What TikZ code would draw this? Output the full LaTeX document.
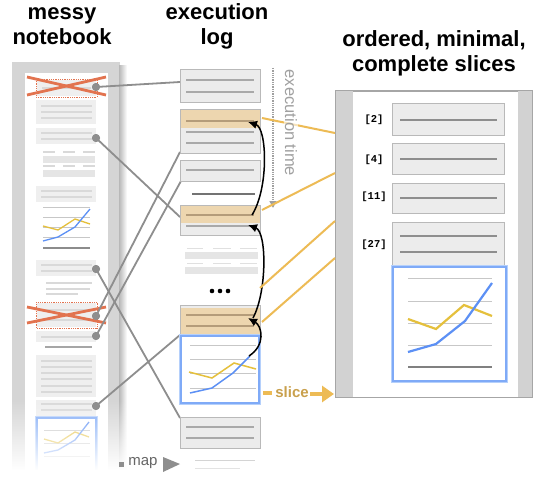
\documentclass[tikz,border=0pt]{standalone}
\usepackage{fontspec}
\setmainfont{Liberation Sans}
\setmonofont{Liberation Mono}
\usetikzlibrary{arrows.meta,fadings}
\definecolor{framec}{HTML}{D5D5D5}
\definecolor{cellg}{HTML}{EFEFEF}
\definecolor{cellln}{HTML}{D9D9D9}
\definecolor{xred}{HTML}{E2734F}
\definecolor{mapg}{HTML}{8E8E8E}
\definecolor{boxf}{HTML}{ECECEC}
\definecolor{boxd}{HTML}{B9B9B9}
\definecolor{boxln}{HTML}{A9A9A9}
\definecolor{tanband}{HTML}{EDD6AF}
\definecolor{tanln}{HTML}{B49C7A}
\definecolor{ylw}{HTML}{EDBB55}
\definecolor{chy}{HTML}{E5C03C}
\definecolor{chb}{HTML}{5C90F5}
\definecolor{glow}{HTML}{B5D0FB}
\definecolor{glowd}{HTML}{7FAAF7}
\definecolor{slicec}{HTML}{C9A04C}
\definecolor{timec}{HTML}{A0A0A0}
\definecolor{stripc}{HTML}{D2D2D2}
\definecolor{slln}{HTML}{8E8E8E}
\tikzset{
  title/.style={font=\bfseries\fontsize{22}{25}\selectfont, anchor=base, inner sep=0},
  nbcell/.style={fill=cellg},
  nbline/.style={cellln, line width=1.1pt},
  xmark/.style={xred, line width=2.8pt},
  redbox/.style={xred, densely dotted, line width=0.8pt},
  mapline/.style={mapg, line width=1.8pt},
  mapdot/.style={circle, fill=mapg, inner sep=0pt, minimum size=8pt},
  logbox/.style={draw=boxd, fill=boxf, line width=1pt},
  logln/.style={boxln, line width=1.2pt},
  tanlnst/.style={tanln, line width=1.2pt},
  yline/.style={ylw, line width=2pt},
  flow/.style={black, line width=1.5pt, -{Latex[length=9pt,width=8.5pt]}},
  grid/.style={black!22, line width=1pt},
  chartbox/.style={fill=white, draw=glowd, line width=1.3pt},
  chartglow/.style={draw=glow, line width=4pt},
  slbox/.style={draw=boxd, fill=boxf, line width=1pt},
  slline/.style={slln, line width=2pt},
  sllabel/.style={font=\ttfamily\bfseries\fontsize{10.5}{11}\selectfont, inner sep=0},
}
\begin{document}
\begin{tikzpicture}[x=1pt,y=-1pt]
\useasboundingbox (0,0) rectangle (549,487);
\fill[white] (0,0) rectangle (549,487);

% ---------- titles
\node[title] (t1a) at (62,20) {messy};
\node[title] (t1b) at (62,45) {notebook};
\node[title] (t2a) at (217,20) {execution};
\node[title] (t2b) at (217,45) {log};
\node[title] (t3a) at (434,47) {ordered, minimal,};
\node[title] (t3b) at (434,72) {complete slices};

% ---------- notebook frame
\fill[framec] (12,62) rectangle (120,487);
\shade[left color=black!28, right color=white] (119,66) rectangle (127,487);
\fill[white] (25,73) rectangle (108,487);

% notebook cells
\fill[nbcell] (37,80) rectangle (96,96);
\draw[nbline] (42,88) -- (91,88);
\draw[redbox] (36,79) rectangle (97,97);

\fill[nbcell] (36,100) rectangle (96,124);
\foreach \y in {106,112,118} \draw[nbline] (41,\y) -- (92,\y);

\fill[nbcell] (36,128) rectangle (96,144);
\foreach \y in {133,139} \draw[nbline] (41,\y) -- (92,\y);

\foreach \y in {152,166} {
  \draw[nbline] (43,\y) -- (55,\y); \draw[nbline] (63,\y) -- (75,\y); \draw[nbline] (83,\y) -- (95,\y);}
\fill[black!10] (43,156) rectangle (95,163);
\fill[black!10] (43,170) rectangle (95,177);

\fill[nbcell] (36,186) rectangle (96,202);
\foreach \y in {191,197} \draw[nbline] (41,\y) -- (92,\y);

\foreach \y in {207,217,227,237} \draw[grid] (43,\y) -- (90,\y);
\draw[chy, line width=1.3pt] (43,226) -- (58,230) -- (75,219) -- (90,224);
\draw[chb, line width=1.3pt] (43,241) -- (58,237) -- (75,227) -- (90,209);
\draw[black!45, line width=1.4pt] (43,248) -- (90,248);

\fill[nbcell] (36,260) rectangle (96,276);
\foreach \y in {265,271} \draw[nbline] (41,\y) -- (92,\y);

\draw[nbline] (46,283) -- (92,283);
\draw[nbline] (46,289) -- (90,289);
\draw[nbline] (46,294) -- (78,294);

\fill[nbcell] (37,303) rectangle (96,327);
\foreach \y in {310,320} \draw[nbline] (41,\y) -- (92,\y);
\draw[redbox] (36,302) rectangle (97,328);

\fill[nbcell] (36,331) rectangle (96,342);
\draw[nbline] (41,337) -- (92,337);
\draw[black!35, line width=1.2pt] (45,347) -- (92,347);

\fill[nbcell] (36,355) rectangle (96,397);
\foreach \y in {361,367,373,379,386,392} \draw[nbline] (41,\y) -- (92,\y);

\fill[nbcell] (36,400) rectangle (96,416);
\foreach \y in {404,410} \draw[nbline] (41,\y) -- (92,\y);

\draw[chartglow] (37,418) rectangle (96,475);
\draw[chartbox] (37,418) rectangle (96,475);
\foreach \y in {430,443,456} \draw[grid] (44,\y) -- (90,\y);
\draw[chy, line width=1.3pt] (44,439) -- (58,443) -- (75,432) -- (89,437);
\draw[chb, line width=1.3pt] (44,453) -- (58,450) -- (75,440) -- (89,422);

% red crosses
\draw[xmark] (27,77) -- (106,95);
\draw[xmark] (27,95) -- (106,77);
\draw[xmark] (27,307) -- (106,323);
\draw[xmark] (27,323) -- (106,307);

% fade of the notebook bottom
\fill[white, path fading=north] (0,400) rectangle (132,470);
\fill[white] (0,470) rectangle (132,487);

% ---------- notebook map points
\node[mapdot] (n1) at (96,87) {};
\node[mapdot] (n2) at (96,138) {};
\node[mapdot] (n3) at (96,269) {};
\node[mapdot] (n4) at (96,316) {};
\node[mapdot] (n5) at (96,336) {};
\node[mapdot] (n6) at (96,406) {};

% ---------- log entry points
\coordinate (e1) at (180,82);
\coordinate (e2) at (180,217);
\coordinate (e3) at (180,418);
\coordinate (e4) at (180,152);
\coordinate (e5) at (181,181);
\coordinate (e6) at (180,335);

\draw[mapline] (n1.center) -- (e1);
\draw[mapline] (n2.center) -- (e2);
\draw[mapline] (n3.center) -- (e3);
\draw[mapline] (n4.center) -- (e4);
\draw[mapline] (n5.center) -- (e5);
\draw[mapline] (n6.center) -- (e6);
\node[mapdot] at (n1) {};
\node[mapdot] at (n2) {};
\node[mapdot] at (n3) {};
\node[mapdot] at (n4) {};
\node[mapdot] at (n5) {};
\node[mapdot] at (n6) {};

% ---------- execution log
\draw[logbox] (180,70) rectangle (260,102);
\foreach \y in {80,92} \draw[logln] (186,\y) -- (254,\y);

\draw[logbox] (180,109) rectangle (260,153);
\fill[tanband] (180.5,109.5) rectangle (259.5,128);
\draw[tanlnst] (186,121) -- (254,121);
\foreach \y in {132,143} \draw[logln] (186,\y) -- (254,\y);

\draw[logbox] (180,160) rectangle (260,181);
\draw[logln] (186,170) -- (254,170);

\draw[black!55, line width=1.5pt] (192,194) -- (255,194);

\draw[logbox] (180,205) rectangle (260,235);
\fill[tanband] (180.5,205.5) rectangle (259.5,223);
\draw[tanlnst] (186,215) -- (254,215);
\draw[logln] (186,226) -- (254,226);

\foreach \y in {248,263} {
  \draw[black!12, line width=1pt] (187,\y) -- (203,\y);
  \draw[black!12, line width=1pt] (213,\y) -- (231,\y);
  \draw[black!12, line width=1pt] (240,\y) -- (257,\y);}
\fill[black!10] (185,252) rectangle (258,259);
\fill[black!10] (185,267) rectangle (258,274);

\node[circle, fill=black, inner sep=0pt, minimum size=4.6pt] (d1) at (212,291) {};
\node[circle, fill=black, inner sep=0pt, minimum size=4.6pt] (d2) at (220,291) {};
\node[circle, fill=black, inner sep=0pt, minimum size=4.6pt] (d3) at (228,291) {};

\draw[logbox] (180,305) rectangle (260,335);
\fill[tanband] (180.5,308) rectangle (259.5,334.5);
\foreach \y in {315,326} \draw[tanlnst] (186,\y) -- (254,\y);

\draw[chartglow] (181,336) rectangle (259,403);
\draw[chartbox] (181,336) rectangle (259,403);
\foreach \y in {345,359,373,388} \draw[grid] (190,\y) -- (256,\y);
\draw[chy, line width=1.5pt] (189,372) -- (212,378) -- (234,363) -- (256,369);
\draw[chb, line width=1.5pt] (190,393) -- (212,388) -- (233,373) -- (250,356);

\draw[logbox] (180,417) rectangle (260,448);
\foreach \y in {427,438} \draw[logln] (186,\y) -- (254,\y);

\draw[black!25, line width=1pt] (195,460) -- (255,460);
\draw[black!25, line width=1pt] (195,468) -- (240,468);
\fill[white, path fading=north] (172,449) rectangle (266,482);
\fill[white] (172,482) rectangle (266,487);

% execution order arrows
\coordinate (a1s) at (252,215);
\coordinate (a1e) at (248,122);
\coordinate (a2s) at (253,318);
\coordinate (a2e) at (248,225);
\coordinate (a3s) at (249,356);
\coordinate (a3e) at (248,318);
\draw[flow] (a1s) .. controls (269,188) and (267,128) .. (a1e);
\draw[flow] (a2s) .. controls (267,292) and (267,232) .. (a2e);
\draw[flow] (a3s) .. controls (266,345) and (262,326) .. (a3e);

% execution time
\coordinate (tt) at (273,68);
\coordinate (tb) at (273,208);
\draw[timec, densely dotted, line width=1.3pt, -{Triangle[length=7pt,width=7pt]}] (tt) -- (tb);

% ---------- slices panel
\draw[fill=white, draw=black!35, line width=1pt] (335,91) rectangle (532,397);
\fill[stripc] (335.5,91.5) rectangle (353,396.5);
\fill[stripc] (518,91.5) rectangle (531.5,396.5);

\draw[slbox] (392,103) rectangle (504,135);
\draw[slline] (400,120) -- (497,120);
\draw[slbox] (392,143) rectangle (504,174);
\draw[slline] (400,159) -- (497,159);
\draw[slbox] (392,183) rectangle (504,213);
\draw[slline] (400,198) -- (497,198);
\draw[slbox] (392,222) rectangle (504,266);
\draw[slline] (400,236) -- (497,236);
\draw[slline] (400,252) -- (497,252);

\node[sllabel] (lb2) at (374,120) {[2]};
\node[sllabel] (lb4) at (374,160) {[4]};
\node[sllabel] (lb11) at (374,197) {[11]};
\node[sllabel] (lb27) at (374,245) {[27]};

\draw[chartglow] (393,267) rectangle (506,381);
\draw[chartbox] (393,267) rectangle (506,381);
\foreach \y in {278,301,323,345} \draw[grid] (408,\y) -- (492,\y);
\draw[black!50, line width=1.5pt] (408,367) -- (492,367);
\draw[chy, line width=2.2pt] (408,319) -- (436,329) -- (464,305) -- (492,316);
\draw[chb, line width=2.2pt] (408,352) -- (436,344) -- (465,321) -- (492,283);

% yellow slice connectors
\coordinate (y1a) at (262,118);
\coordinate (y1b) at (335,133);
\coordinate (y2a) at (262,210);
\coordinate (y2b) at (335,173);
\coordinate (y3a) at (260,288);
\coordinate (y3b) at (335,221);
\coordinate (y4a) at (262,322);
\coordinate (y4b) at (335,258);
\draw[yline] (y1a) -- (y1b);
\draw[yline] (y2a) -- (y2b);
\draw[yline] (y3a) -- (y3b);
\draw[yline] (y4a) -- (y4b);

\node[rotate=-90, font=\fontsize{16.5}{17}\selectfont, text=timec, fill=white, fill opacity=0.6, text opacity=1, inner sep=1pt] (time) at (291,123) {execution time};

% slice label
\coordinate (s0) at (263,393);
\coordinate (s1) at (272,393);
\draw[ylw, line width=3.5pt] (s0) -- (s1);
\node[font=\bfseries\fontsize{15}{15}\selectfont, text=slicec, inner sep=0] (slice) at (292,392) {slice};
\coordinate (s2) at (310,394);
\coordinate (s3) at (334,394);
\draw[ylw, line width=3.5pt, -{Triangle[length=12pt,width=16pt]}] (s2) -- (s3);

% map label
\fill[mapg] (119,462) rectangle (124,467);
\node[font=\fontsize{15}{15}\selectfont, text=black!60, inner sep=0] (map) at (143,463) {map};
\fill[mapg] (163,457) -- (180,464) -- (163,472) -- cycle;
\end{tikzpicture}
\end{document}
